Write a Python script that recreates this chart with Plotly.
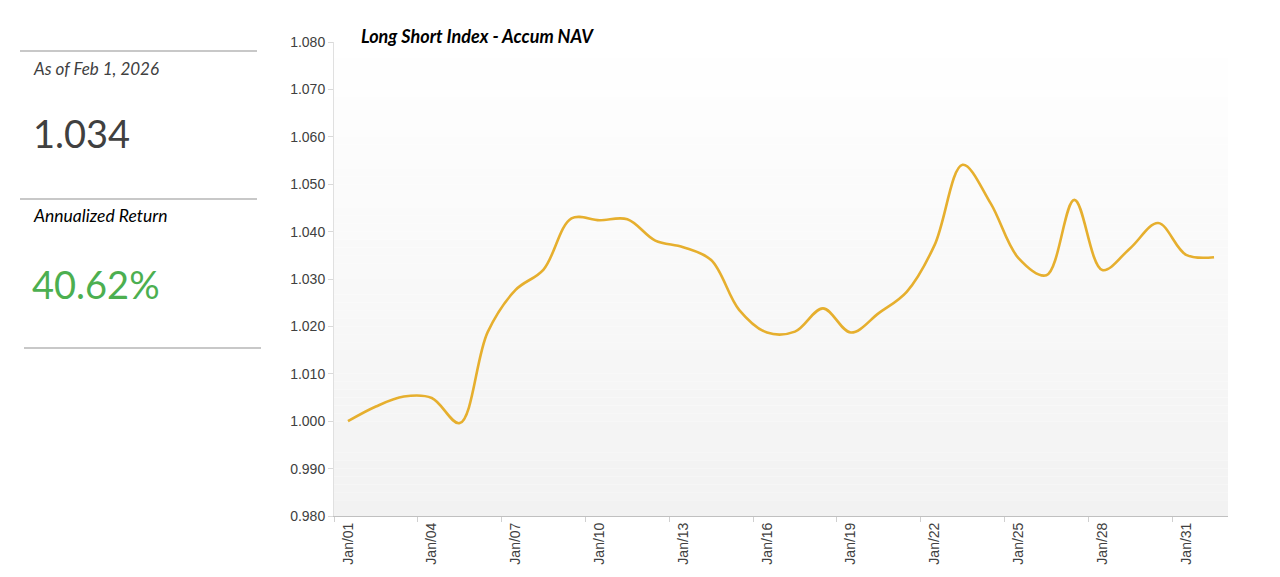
import plotly.graph_objects as go

dates = [f"Jan/{d:02d}" for d in range(1, 32)] + ["Feb/01"]
nav = [1.0000, 1.0031, 1.0052, 1.0049, 0.9996, 1.0188, 1.0277, 1.0320, 1.0428, 1.0424,
       1.0426, 1.0381, 1.0367, 1.0340, 1.0235, 1.0187, 1.0189, 1.0238, 1.0187, 1.0228,
       1.0273, 1.0372, 1.0541, 1.0460, 1.0344, 1.0308, 1.0467, 1.0319, 1.0365, 1.0418,
       1.0351, 1.0346]
label_step = 3
y_ticks = [0.98 + 0.01 * i for i in range(11)]
title = "Long Short Index - Accum NAV"
as_of = "As of Feb 1, 2026"
latest_nav = "1.034"
ann_label = "Annualized Return"
ann_value = "40.62%"

OFF = 8
PL, PR, PT, PB = 334, 1228, 42, 516

idx = list(range(len(dates)))
tick_idx = idx[:31:label_step]

fig = go.Figure()
fig.add_trace(go.Scatter(
    x=idx, y=nav, mode="lines", text=dates,
    line=dict(color="#E6AF2E", width=2.6, shape="spline", smoothing=1.0),
    hovertemplate="%{text}: %{y:.4f}<extra></extra>", showlegend=False,
))

shapes = []
n = 60
for i in range(n):
    t = (i + 0.5) / n
    g = round(242 + (255 - 242) * t)
    shapes.append(dict(type="rect", xref="x domain", yref="y domain",
                       x0=0, x1=1, y0=i / n, y1=(i + 1) / n,
                       fillcolor=f"rgb({g},{g},{g})", line=dict(width=0), layer="below"))


def px(x):
    return (x - PL) / (PR - PL)


def py(y):
    return (PB - y) / (PB - PT)


for (x0, x1, y) in [(20, 257, 51), (20, 257, 199), (24, 261, 348)]:
    shapes.append(dict(type="line", xref="paper", yref="paper",
                       x0=px(x0), x1=px(x1), y0=py(y), y1=py(y),
                       line=dict(color="#c8c8c8", width=2)))

annotations = [
    dict(text=f"<b><i>{title}</i></b>", x=px(359), y=py(36), xref="paper", yref="paper",
         xanchor="left", yanchor="middle", showarrow=False,
         font=dict(family="Lato, Liberation Sans", size=18, color="#000000")),
    dict(text=f"<i>{as_of}</i>", x=px(31), y=py(69), xref="paper", yref="paper",
         xanchor="left", yanchor="middle", showarrow=False,
         font=dict(family="Lato, Liberation Sans", size=17, color="#404040")),
    dict(text=latest_nav, x=px(31), y=py(133), xref="paper", yref="paper",
         xanchor="left", yanchor="middle", showarrow=False,
         font=dict(family="Lato, Liberation Sans", size=38, color="#404040")),
    dict(text=f"<i>{ann_label}</i>", x=px(31), y=py(216), xref="paper", yref="paper",
         xanchor="left", yanchor="middle", showarrow=False,
         font=dict(family="Lato, Liberation Sans", size=17.5, color="#000000")),
    dict(text=ann_value, x=px(30), y=py(284), xref="paper", yref="paper",
         xanchor="left", yanchor="middle", showarrow=False,
         font=dict(family="Lato, Liberation Sans", size=38, color="#4CAF50")),
]

W, H = 1280 - OFF, 577 - OFF
fig.update_layout(
    width=W, height=H,
    margin=dict(l=PL - OFF, r=1280 - PR, t=PT - OFF, b=577 - PB),
    paper_bgcolor="white", plot_bgcolor="rgba(0,0,0,0)",
    shapes=shapes, annotations=annotations,
    xaxis=dict(tickmode="array", tickvals=tick_idx, ticktext=[dates[i] for i in tick_idx],
               tickangle=-90, ticks="",
               minor=dict(tickmode="array", tickvals=[i - 0.5 for i in tick_idx],
                          ticks="outside", ticklen=5, tickcolor="#d0d0d0", showgrid=False),
               showline=True, linecolor="#c0c0c0", linewidth=1,
               showgrid=False, zeroline=False, range=[-0.5, len(dates) - 0.5],
               tickfont=dict(family="Liberation Sans", size=14, color="#404040")),
    yaxis=dict(range=[0.98, 1.08], tickmode="array", tickvals=y_ticks,
               ticktext=[f"{v:.3f}" for v in y_ticks],
               ticks="outside", ticklen=5, tickcolor="#d9d9d9",
               showline=True, linecolor="#e0e0e0", linewidth=1,
               showgrid=False, zeroline=False,
               tickfont=dict(family="Liberation Sans", size=14, color="#404040")),
)

fig.write_html("out.html")
